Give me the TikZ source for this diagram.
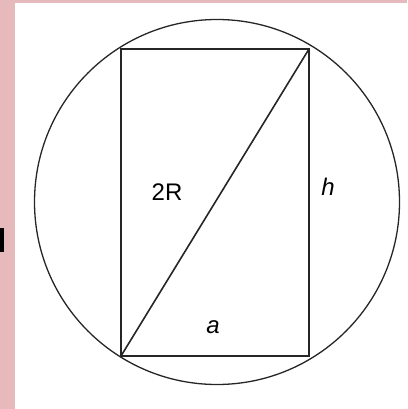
\documentclass[tikz,border=0pt]{standalone}
\usepackage{fontspec}
\setmainfont{Liberation Sans}
\definecolor{pinkbg}{HTML}{E6B9BC}
\tikzset{
  geom/.style={draw=black!85, line width=1.6pt},
  lbl/.style={font=\fontsize{24}{28}\selectfont, inner sep=0pt},
}
\begin{document}
\begin{tikzpicture}[x=1pt,y=-1pt]
\useasboundingbox (0,0) rectangle (407,409);
\fill[pinkbg] (0,0) rectangle (407,3);
\fill[pinkbg] (0,0) rectangle (15,409);
\fill[black] (0,228) rectangle (4,252);
\node[circle, draw=black!85, line width=1.3pt, minimum size=365pt, inner sep=0pt] (c) at (217,202) {};
\coordinate (bl) at (121,356);
\coordinate (tr) at (309,49);
\draw[geom] (bl) rectangle (tr);
\draw[geom] (bl) -- (tr);
\node[lbl] (r2) at (167,192) {2R};
\node[lbl] (h) at (328,187) {\itshape h};
\node[lbl] (a) at (213,327) {\itshape a};
\end{tikzpicture}
\end{document}
